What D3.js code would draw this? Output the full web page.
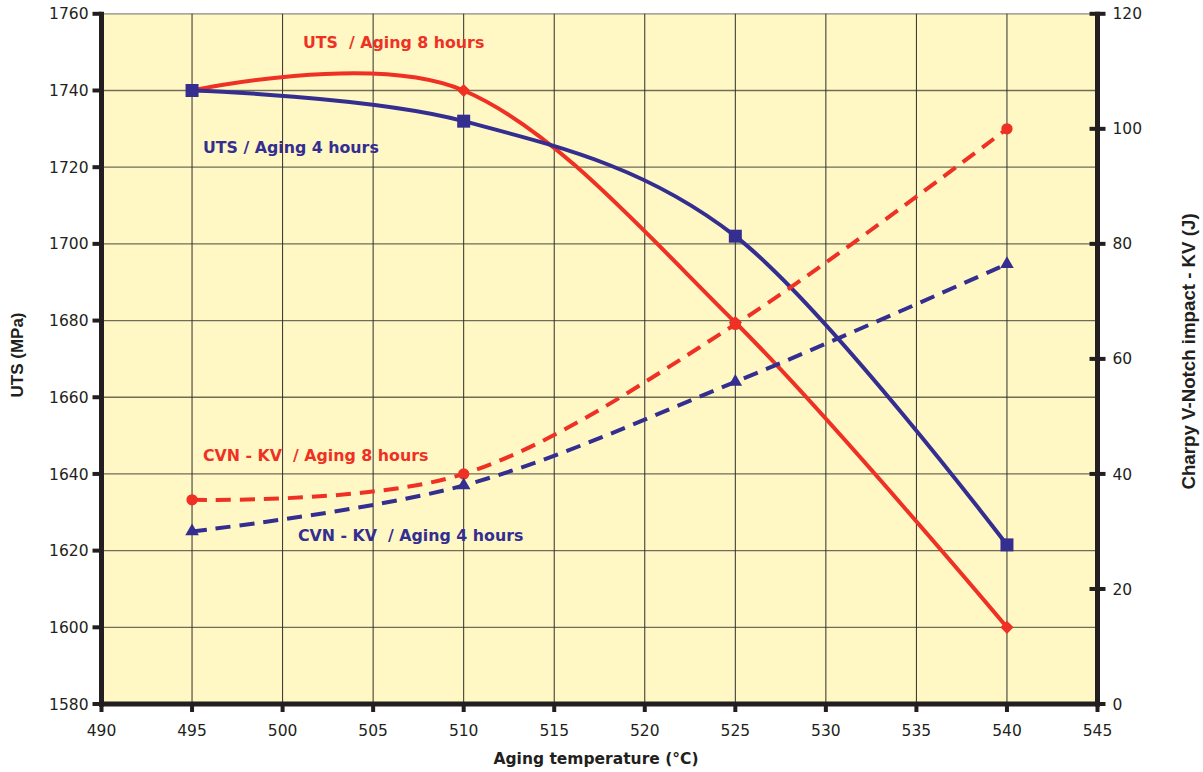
<!DOCTYPE html>
<html><head><meta charset="utf-8">
<script src="https://cdn.jsdelivr.net/npm/d3@7"></script>
<style>body{margin:0;background:#fff} svg text{white-space:pre}</style>
</head><body><svg id="c" width="1203" height="772"></svg>
<script>
// ---- data ----
const temperatures = [495, 510, 525, 540];
const uts8h = [1740, 1740, 1679.5, 1600];
const uts4h = [1740, 1732, 1702, 1621.5];
const cvn8h = [35.5, 40, 66, 100];
const cvn4h = [30, 38, 56, 76.5];
const xTicks = [490, 495, 500, 505, 510, 515, 520, 525, 530, 535, 540, 545];
const utsTicks = [1580, 1600, 1620, 1640, 1660, 1680, 1700, 1720, 1740, 1760];
const cvnTicks = [0, 20, 40, 60, 80, 100, 120];
const seriesNames = ["UTS  / Aging 8 hours", "UTS / Aging 4 hours", "CVN - KV  / Aging 8 hours", "CVN - KV  / Aging 4 hours"];
const xTitle = "Aging temperature (°C)";
const yLeftTitle = "UTS (MPa)";
const yRightTitle = "Charpy V-Notch impact - KV (J)";

// ---- layout ----
const RED = "#ee3124", NAVY = "#332e90", INK = "#231f20", BG = "#fff8c4";
const L = 101.5, R = 1097.5, T = 13.8, B = 704;
const svg = d3.select("#c");
const x = d3.scaleLinear().domain([490, 545]).range([L, R]);
const yL = d3.scaleLinear().domain([1580, 1760]).range([B, T]);
const yR = d3.scaleLinear().domain([0, 120]).range([B, T]);

svg.append("rect").attr("x", L).attr("y", T).attr("width", R - L).attr("height", B - T).attr("fill", BG);

// gridlines
svg.append("g").selectAll("line").data(utsTicks.slice(1)).join("line")
  .attr("x1", L).attr("x2", R + 2).attr("y1", d => yL(d)).attr("y2", d => yL(d))
  .attr("stroke", d => d === 1760 ? "#8a8780" : "#6f6c58").attr("stroke-width", 1.3);
svg.append("g").selectAll("line").data(xTicks.slice(1, -1)).join("line")
  .attr("x1", d => x(d)).attr("x2", d => x(d)).attr("y1", T).attr("y2", B)
  .attr("stroke", "#2e2e2e").attr("stroke-width", 1);

// axes lines
const ax = svg.append("g").attr("stroke", INK).attr("stroke-width", 5);
ax.append("line").attr("x1", L).attr("x2", L).attr("y1", T - 2).attr("y2", B + 2.5);
ax.append("line").attr("x1", R).attr("x2", R).attr("y1", T - 2).attr("y2", B + 2.5);
ax.append("line").attr("x1", L - 2.5).attr("x2", R + 2.5).attr("y1", B).attr("y2", B);

// ticks
const tk = svg.append("g").attr("stroke", INK).attr("stroke-width", 4);
tk.selectAll(".tl").data(utsTicks).join("line").attr("x1", L - 9).attr("x2", L)
  .attr("y1", d => yL(d)).attr("y2", d => yL(d));
tk.selectAll(".tr").data(cvnTicks).join("line").attr("x1", R - 8).attr("x2", R + 8)
  .attr("y1", d => yR(d)).attr("y2", d => yR(d));
tk.selectAll(".tb").data(xTicks).join("line").attr("x1", d => x(d)).attr("x2", d => x(d))
  .attr("y1", B).attr("y2", B + 8);

// tick labels
const tf = "'DejaVu Sans', Verdana, sans-serif";
svg.append("g").selectAll("text").data(utsTicks).join("text")
  .attr("x", L - 13).attr("y", d => yL(d)).attr("dy", "0.36em").attr("text-anchor", "end")
  .attr("font-family", tf).attr("font-size", 15.5).attr("fill", INK).text(d => d);
svg.append("g").selectAll("text").data(cvnTicks).join("text")
  .attr("x", R + 15).attr("y", d => yR(d)).attr("dy", "0.36em").attr("text-anchor", "start")
  .attr("font-family", tf).attr("font-size", 15.5).attr("fill", INK).text(d => d);
svg.append("g").selectAll("text").data(xTicks).join("text")
  .attr("x", d => x(d)).attr("y", 736).attr("text-anchor", "middle")
  .attr("font-family", tf).attr("font-size", 15.5).attr("fill", INK).text(d => d);

// axis titles
svg.append("text").attr("x", 596).attr("y", 764).attr("text-anchor", "middle")
  .attr("font-family", tf).attr("font-weight", "bold").attr("font-size", 15.5).attr("fill", INK).text(xTitle);
svg.append("text").attr("transform", "translate(22.7,355) rotate(-90)").attr("text-anchor", "middle")
  .attr("font-family", "'Liberation Sans', Arial, sans-serif").attr("font-weight", "bold").attr("font-size", 17).attr("fill", INK).text(yLeftTitle);
svg.append("text").attr("transform", "translate(1195,351.5) rotate(-90)").attr("text-anchor", "middle")
  .attr("font-family", "'Liberation Sans', Arial, sans-serif").attr("font-weight", "bold").attr("font-size", 18.7).attr("fill", INK).text(yRightTitle);

// lines
const curve = d3.curveCardinal.tension(0);
function drawLine(vals, y, color, dashed) {
  const pts = temperatures.map((t, i) => [t, vals[i]]);
  svg.append("path").datum(pts)
    .attr("d", d3.line().x(d => x(d[0])).y(d => y(d[1])).curve(curve))
    .attr("fill", "none").attr("stroke", color).attr("stroke-width", 4)
    .attr("stroke-dasharray", dashed ? "15,9" : null);
  return pts;
}
const sym = (type, size) => d3.symbol().type(type).size(size)();
function drawMarkers(pts, y, color, type, size) {
  svg.append("g").selectAll("path").data(pts).join("path")
    .attr("transform", d => `translate(${x(d[0])},${y(d[1])})`)
    .attr("d", sym(type, size)).attr("fill", color);
}
const p1 = drawLine(uts8h, yL, RED, false);
drawMarkers(p1, yL, RED, d3.symbolDiamond2, 110);
const p2 = drawLine(uts4h, yL, NAVY, false);
drawMarkers(p2, yL, NAVY, d3.symbolSquare, 169);
const p3 = drawLine(cvn8h, yR, RED, true);
drawMarkers(p3, yR, RED, d3.symbolCircle, 100);
const p4 = drawLine(cvn4h, yR, NAVY, true);
drawMarkers(p4, yR, NAVY, d3.symbolTriangle, 80);

// series labels
const lf = "'DejaVu Sans', Verdana, sans-serif";
const labelPos = [[303, 47.5, RED], [203, 152.5, NAVY], [203, 460.5, RED], [298, 540.5, NAVY]];
svg.append("g").selectAll("text").data(seriesNames).join("text")
  .attr("x", (d, i) => labelPos[i][0]).attr("y", (d, i) => labelPos[i][1])
  .attr("fill", (d, i) => labelPos[i][2])
  .attr("font-family", lf).attr("font-weight", "bold").attr("font-size", 15.8).text(d => d);
</script></body></html>
